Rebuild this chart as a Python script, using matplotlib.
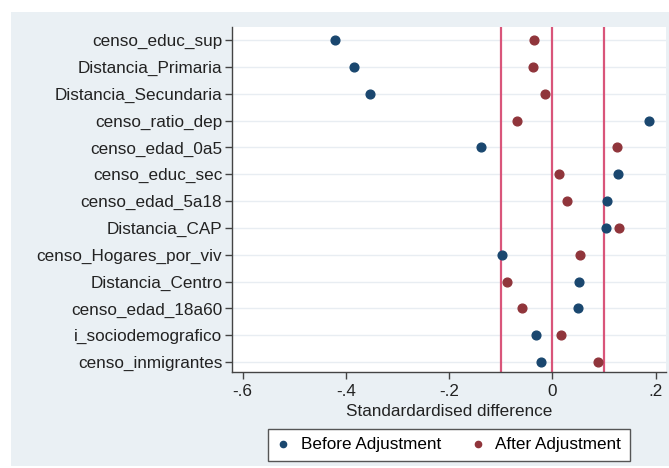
import matplotlib
matplotlib.use("Agg")
import matplotlib.pyplot as plt
from matplotlib.patches import Rectangle
from matplotlib.lines import Line2D

variables = ["censo_educ_sup", "Distancia_Primaria", "Distancia_Secundaria",
             "censo_ratio_dep", "censo_edad_0a5", "censo_educ_sec",
             "censo_edad_5a18", "Distancia_CAP", "censo_Hogares_por_viv",
             "Distancia_Centro", "censo_edad_18a60", "i_sociodemografico",
             "censo_inmigrantes"]
before = [-0.422, -0.384, -0.353, 0.187, -0.139, 0.127, 0.106, 0.103,
          -0.098, 0.052, 0.050, -0.031, -0.023]
after = [-0.036, -0.037, -0.015, -0.068, 0.126, 0.012, 0.028, 0.129,
         0.054, -0.088, -0.058, 0.017, 0.089]
ref_lines = [-0.1, 0, 0.1]
xticks = [-0.6, -0.4, -0.2, 0, 0.2]
xticklabels = ["-.6", "-.4", "-.2", "0", ".2"]

plt.rcParams["font.family"] = ["Liberation Sans", "DejaVu Sans"]

blue = "#1a476f"
red = "#90353b"
fs = 12.3

fig = plt.figure(figsize=(6.69, 4.68), dpi=100)
fig.patch.set_facecolor("white")
fig.patches.append(Rectangle((11 / 669, 2 / 468), 658 / 669, 454 / 468,
                             transform=fig.transFigure, facecolor="#eaf0f4",
                             edgecolor="none", zorder=-10))

ax = fig.add_axes([232 / 669, 1 - 372 / 468, 434 / 669, 345 / 468])
ax.set_facecolor("white")

ypos = list(range(1, len(variables) + 1))
for y in ypos:
    ax.axhline(y, color="#e8edf2", lw=1, zorder=1)
for x in ref_lines:
    ax.axvline(x, color="#d9557a", lw=1.6, zorder=2)

ax.plot(before, ypos, "o", color=blue, ms=6.3, zorder=3, label="Before Adjustment")
ax.plot(after, ypos, "o", color=red, ms=6.3, zorder=3, label="After Adjustment")

ax.set_xlim(-0.6206, 0.22)
ax.set_ylim(13.37, 0.515)
ax.set_yticks(ypos)
ax.set_yticklabels(variables, fontsize=fs, color="#222222")
ax.set_xticks(xticks)
ax.set_xticklabels(xticklabels, fontsize=fs, color="#222222")
ax.set_xlabel("Standardardised difference", fontsize=fs, color="#222222", labelpad=3)

for s in ["top", "right"]:
    ax.spines[s].set_visible(False)
for s in ["left", "bottom"]:
    ax.spines[s].set_color("#444444")
    ax.spines[s].set_linewidth(1)
ax.tick_params(axis="both", length=5, color="#444444", width=1, pad=2)
ax.tick_params(axis="x", pad=4)

handles = [Line2D([], [], ls="none", marker="o", color=blue, ms=4.5),
           Line2D([], [], ls="none", marker="o", color=red, ms=4.5)]
leg = fig.legend(handles, ["Before Adjustment", "After Adjustment"],
                 loc="center", bbox_to_anchor=(449 / 669, 1 - 445 / 468),
                 ncol=2, fontsize=fs, frameon=True, fancybox=False,
                 handlelength=0.8, handletextpad=0.6, columnspacing=1.8,
                 borderpad=0.5, framealpha=1)
leg.get_frame().set_edgecolor("#555555")
leg.get_frame().set_linewidth(1)
leg.get_frame().set_facecolor("white")

fig.savefig("out.png", dpi=100)
